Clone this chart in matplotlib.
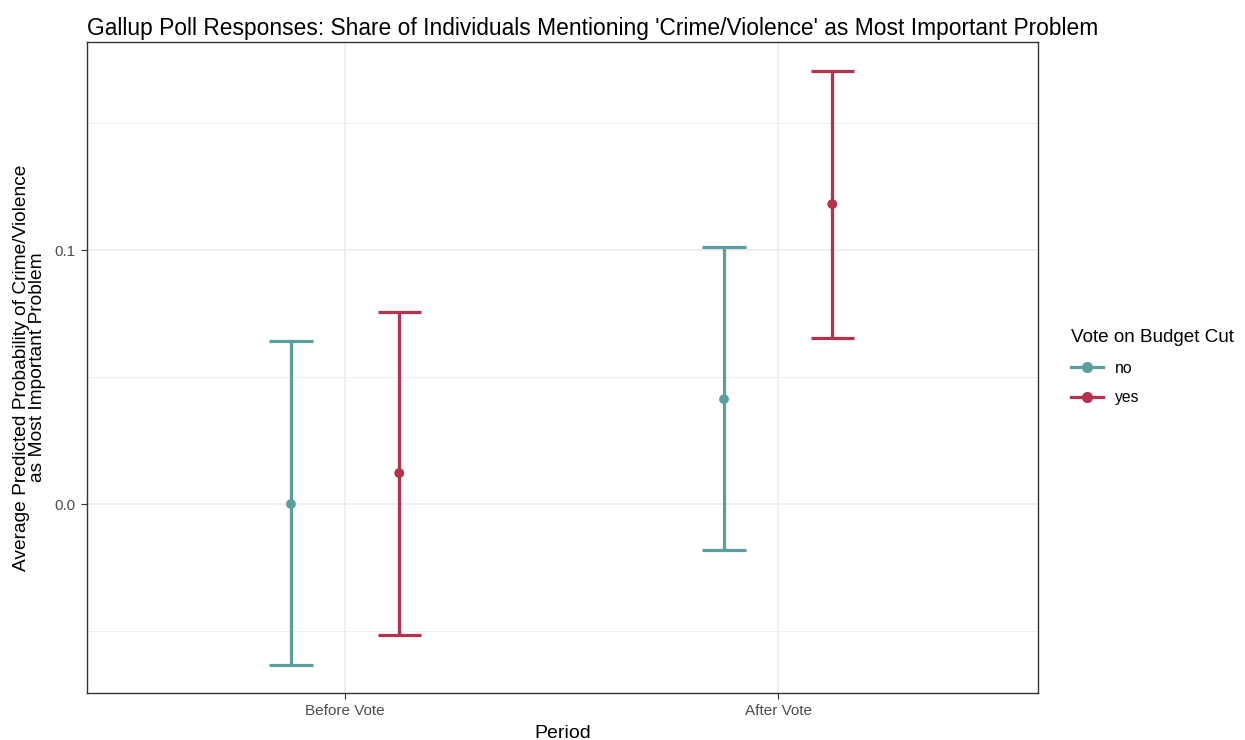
import matplotlib
matplotlib.use("Agg")
import matplotlib.pyplot as plt
from matplotlib.lines import Line2D
import numpy as np

plt.rcParams['font.family'] = ['Liberation Sans', 'DejaVu Sans']

periods = ["Before Vote", "After Vote"]
groups = ["no", "yes"]
# estimates and 95% intervals, per group, per period
est = {"no": [0.0, 0.0413], "yes": [0.0122, 0.1181]}
lower = {"no": [-0.0634, -0.0181], "yes": [-0.0516, 0.0654]}
upper = {"no": [0.0642, 0.1012], "yes": [0.0756, 0.1705]}
colors = {"no": "#5B9EA0", "yes": "#B5314C"}

fig = plt.figure(figsize=(12.45, 7.4), dpi=100)
ax = fig.add_axes([0.0699, 0.0635, 0.7638, 0.8797])

x = np.arange(1, len(periods) + 1)
dodge = {"no": -0.125, "yes": 0.125}
cap = 0.05

for g in groups:
    xs = x + dodge[g]
    for xi, lo, hi in zip(xs, lower[g], upper[g]):
        ax.plot([xi, xi], [lo, hi], color=colors[g], lw=2.3, solid_capstyle='butt', zorder=3)
        ax.plot([xi - cap, xi + cap], [lo, lo], color=colors[g], lw=2.3, solid_capstyle='butt', zorder=3)
        ax.plot([xi - cap, xi + cap], [hi, hi], color=colors[g], lw=2.3, solid_capstyle='butt', zorder=3)
    ax.scatter(xs, est[g], color=colors[g], s=50, zorder=4, edgecolor='none')

ax.set_xlim(0.404, 2.6)
ax.set_ylim(-0.0744, 0.1819)
ax.set_xticks(x)
ax.set_xticklabels(periods)
ax.set_yticks([0.0, 0.1])
ax.set_yticklabels(["0.0", "0.1"])
ax.set_yticks([-0.05, 0.05, 0.15], minor=True)

ax.grid(True, which='major', color='#EBEBEB', lw=1.1, zorder=0)
ax.grid(True, which='minor', axis='y', color='#EBEBEB', lw=0.6, zorder=0)
ax.set_axisbelow(True)
ax.tick_params(axis='both', which='major', length=4, width=0.8, color='#333333',
               labelsize=11, labelcolor='#4D4D4D', pad=4)
ax.tick_params(axis='y', which='minor', length=0)
for s in ax.spines.values():
    s.set_color('#333333')
    s.set_linewidth(1.0)

ax.set_xlabel("Period", fontsize=14, labelpad=5)
ax.set_ylabel("Average Predicted Probability of Crime/Violence\nas Most Important Problem",
              fontsize=13.8, labelpad=6, linespacing=0.95)
ax.set_title("Gallup Poll Responses: Share of Individuals Mentioning 'Crime/Violence' as Most Important Problem",
             fontsize=16.4, loc='left', pad=5)

handles = [Line2D([0], [0], color=colors[g], lw=2.3, marker='o', markersize=7) for g in groups]
leg = fig.legend(handles, groups, title="Vote on Budget Cut", loc='upper left',
                 bbox_to_anchor=(0.849, 0.575), frameon=False, fontsize=11.3,
                 title_fontsize=13.6, handlelength=2.0, handletextpad=0.8, labelspacing=0.95)
leg._legend_box.align = "left"

fig.savefig("out.png", dpi=100)
